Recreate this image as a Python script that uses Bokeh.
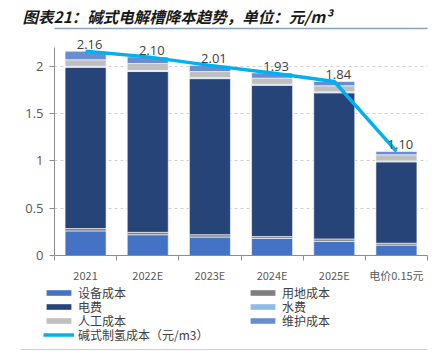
from bokeh.plotting import figure
from bokeh.models import (ColumnDataSource, FixedTicker, Legend, LegendItem,
                          LinearAxis, Range1d, Span)
from bokeh.layouts import column
from bokeh.core.properties import value
from bokeh.embed import file_html
from bokeh.resources import INLINE

categories = ["2021", "2022E", "2023E", "2024E", "2025E", "电价0.15元"]
equipment = [0.26, 0.22, 0.195, 0.18, 0.15, 0.11]     # 设备成本
land = [0.025, 0.025, 0.025, 0.02, 0.025, 0.02]        # 用地成本
electricity = [1.705, 1.70, 1.65, 1.60, 1.545, 0.86]   # 电费
water = [0.01, 0.01, 0.01, 0.01, 0.01, 0.01]           # 水费
labor = [0.07, 0.075, 0.065, 0.065, 0.065, 0.065]      # 人工成本
maintenance = [0.09, 0.07, 0.065, 0.055, 0.045, 0.035] # 维护成本
total_cost = [2.16, 2.10, 2.01, 1.93, 1.84, 1.10]      # 碱式制氢成本（元/m3）
y_ticks = [0, 0.5, 1, 1.5, 2]

names = ["设备成本", "用地成本", "电费", "水费", "人工成本", "维护成本"]
colors = ["#4472C4", "#7F7F7F", "#264478", "#8FBCE6", "#BFBFBF", "#698ED0"]
keys = ["equipment", "land", "electricity", "water", "labor", "maintenance"]
line_name = "碱式制氢成本（元/m3）"
line_color = "#00B0F0"

xs = list(range(len(categories)))
src = ColumnDataSource(dict(x=xs, equipment=equipment, land=land, electricity=electricity,
                            water=water, labor=labor, maintenance=maintenance,
                            total=total_cost,
                            lbl=["%.2f" % v for v in total_cost]))

# ---------------- main chart ----------------
p = figure(width=437, height=285, output_backend="svg", toolbar_location=None,
           x_range=Range1d(-0.5, len(categories) - 0.5), y_range=Range1d(0, 2.4),
           min_border_left=54, min_border_right=10, min_border_top=24, min_border_bottom=27)
p.outline_line_color = None

bars = p.vbar_stack(keys, x="x", width=0.66, source=src, color=colors,
                    line_color="white", line_width=0.6)
line = p.line("x", "total", source=src, line_color=line_color, line_width=3.5)
p.text("x", "total", text="lbl", source=src, text_align="center", text_baseline="bottom",
       x_offset=4, y_offset=-2, text_font=value("Open Sans"), text_font_size="13px",
       text_color="#404040")

p.title.text = "图表21：碱式电解槽降本趋势，单位：元/m³"
p.title.text_font = "Noto Sans CJK SC"
p.title.text_font_style = "bold italic"
p.title.text_font_size = "15.5px"
p.title.text_color = "#1A1A1A"
p.title.align = "left"
p.title.offset = -32
p.title.standoff = 4

xax = p.below[0]
yax = p.left[0]
xax.ticker = FixedTicker(ticks=xs, minor_ticks=[i - 0.5 for i in range(len(categories) + 1)])
xax.major_label_overrides = {i: c for i, c in enumerate(categories)}
xax.major_tick_line_color = None
xax.minor_tick_out = 5
xax.minor_tick_in = 0
xax.minor_tick_line_color = "#8C8C8C"
xax.axis_line_color = "#8C8C8C"
xax.major_label_text_font = "Noto Sans CJK SC"
xax.major_label_text_font_size = "11px"
xax.major_label_text_color = "#595959"
xax.major_label_standoff = 5

yax.ticker = FixedTicker(ticks=y_ticks)
yax.bounds = (0, 2.2)
yax.major_label_overrides = {0: "0", 0.5: "0.5", 1: "1", 1.5: "1.5", 2: "2"}
yax.minor_tick_line_color = None
yax.major_tick_out = 5
yax.major_tick_in = 0
yax.major_tick_line_color = "#8C8C8C"
yax.axis_line_color = "#8C8C8C"
yax.major_label_text_font = "Open Sans"
yax.major_label_text_font_size = "13px"
yax.major_label_text_color = "#595959"
yax.major_label_standoff = 6

p.xgrid.grid_line_color = None
p.ygrid.grid_line_color = "#D0D0D0"
p.ygrid.grid_line_dash = "3 3"

top_rule = LinearAxis(ticker=FixedTicker(ticks=[]), axis_line_color="#8EA4BA",
                      axis_line_width=1.5, major_tick_out=0, minor_tick_out=0,
                      major_label_standoff=0, major_tick_in=0, minor_tick_in=0)
p.add_layout(top_rule, "above")

# ---------------- legend strip ----------------
lg = figure(width=437, height=66, output_backend="svg", toolbar_location=None,
            x_range=Range1d(100, 507), y_range=Range1d(100, 166),
            x_axis_type=None, y_axis_type=None,
            min_border_left=20, min_border_right=10, min_border_top=0, min_border_bottom=0)
lg.outline_line_color = None
lg.xgrid.grid_line_color = None
lg.ygrid.grid_line_color = None

# legend proxies: the same data, drawn outside the strip's visible range
left_edge = 20
try:
    p.frame_align = False
    lg.frame_align = False
except AttributeError:
    left_edge = 54

proxy_bars = lg.vbar_stack(keys, x="x", width=0.66, source=src, color=colors,
                           line_color=None)
proxies = dict(zip(names, proxy_bars))
proxies[line_name] = lg.line("x", "total", source=src, line_color=line_color, line_width=3.5)

layout_items = [
    ("设备成本", 43, 50.5), ("电费", 43, 36), ("人工成本", 43, 22.5), (line_name, 43, 8),
    ("用地成本", 247, 50.5), ("水费", 247, 36), ("维护成本", 247, 22.5),
]
for lab, lx, ly in layout_items:
    lg.add_layout(Legend(items=[LegendItem(label=lab, renderers=[proxies[lab]])],
                         location=(lx - left_edge, ly), orientation="vertical",
                         glyph_width=31, glyph_height=7, label_height=12,
                         label_standoff=4, spacing=0, padding=0, margin=0,
                         border_line_color=None, background_fill_alpha=0,
                         label_text_font="Noto Sans CJK SC", label_text_font_size="12px",
                         label_text_color="#404040"), "center")

lg.add_layout(Span(location=102, dimension="width", line_color="#CFCFCF", line_width=1))

layout = column(p, lg, spacing=0)
open("out.html", "w").write(file_html(layout, INLINE))
